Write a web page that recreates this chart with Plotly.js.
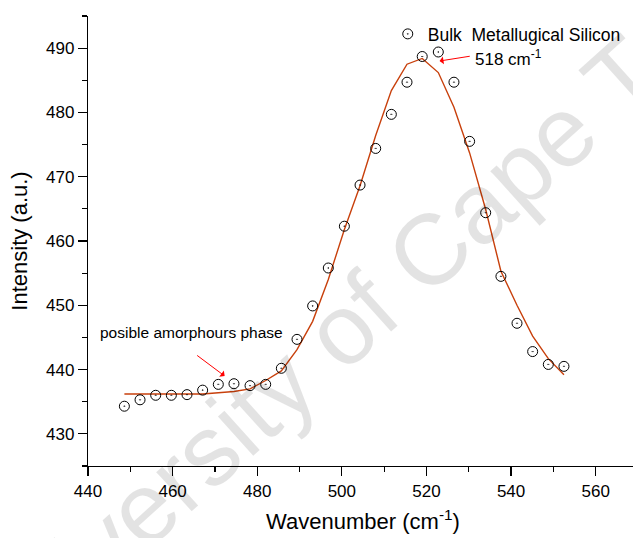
<!DOCTYPE html>
<html>
<head>
<meta charset="utf-8">
<script src="https://cdn.plot.ly/plotly-3.0.1.min.js"></script>
<style>
html,body{margin:0;padding:0;overflow:hidden;background:#fff;}
#chart{width:640px;height:538px;}
</style>
</head>
<body>
<div id="chart"></div>
<script>
// Raman spectrum data
const wavenumber = [448.6, 452.3, 456.0, 459.7, 463.4, 467.1, 470.8, 474.5, 478.3, 482.0,
                    485.7, 489.4, 493.1, 496.8, 500.6, 504.3, 508.0, 511.7, 515.4, 519.0,
                    522.8, 526.5, 530.2, 534.0, 537.6, 541.4, 545.1, 548.8, 552.5];
const intensity  = [434.3, 435.3, 436.0, 436.0, 436.1, 436.8, 437.7, 437.8, 437.5, 437.7,
                    440.2, 444.7, 449.9, 455.8, 462.3, 468.7, 474.4, 479.7, 484.7, 488.7,
                    489.4, 484.7, 475.5, 464.4, 454.5, 447.2, 442.8, 440.8, 440.5];
const fitIntensity = [436.2, 436.2, 436.2, 436.2, 436.1, 436.2, 436.4, 436.6, 437.0, 438.3,
                      439.8, 443.1, 447.5, 454.0, 461.8, 468.6, 476.4, 483.4, 487.5, 488.4,
                      486.2, 480.8, 473.7, 464.9, 455.3, 450.0, 445.2, 441.7, 439.2];
const seriesName = 'Bulk\u00a0 Metallugical Silicon';
const xTitle = 'Wavenumber (cm<sup>-1</sup>)';
const yTitle = 'Intensity (a.u.)';
const peakLabel = '518 cm<sup>-1</sup>';
const phaseLabel = 'posible amorphours phase';
const watermark = 'University of Cape Town';

const FONT = 'Liberation Sans, Arial, Helvetica, sans-serif';

const traces = [
  {
    x: wavenumber, y: fitIntensity, type: 'scatter', mode: 'lines',
    line: {color: '#c8400c', width: 1.4}, showlegend: false, hoverinfo: 'skip'
  },
  {
    x: wavenumber, y: intensity, type: 'scatter', mode: 'markers', name: seriesName,
    marker: {symbol: 'circle-open-dot', size: 10, color: '#000', line: {color: '#000', width: 1}}
  }
];

const axBase = {
  showgrid: false, zeroline: false, showline: true, linecolor: '#000', linewidth: 1.2,
  tickcolor: '#000', tickwidth: 1.2, ticklen: 9,
  tickfont: {family: FONT, size: 17, color: '#000'}
};

const layout = {
  width: 640, height: 538,
  margin: {l: 88, r: 2, t: 16, b: 72},
  paper_bgcolor: '#fff', plot_bgcolor: '#fff',
  font: {family: FONT, color: '#000'},
  showlegend: true,
  legend: {x: 0.545, y: 1.0, xanchor: 'left', yanchor: 'top', bgcolor: 'rgba(0,0,0,0)',
           font: {family: FONT, size: 17.5, color: '#000'}},
  xaxis: Object.assign({}, axBase, {
    range: [440, 570], tick0: 440, dtick: 20, ticks: 'outside',
    minor: {dtick: 10, ticks: 'outside', ticklen: 5, tickcolor: '#000', tickwidth: 1.2, showgrid: false},
    title: {text: xTitle, standoff: 14, font: {family: FONT, size: 22, color: '#000'}}
  }),
  yaxis: Object.assign({}, axBase, {
    range: [425, 495], tick0: 430, dtick: 10, ticks: 'outside',
    minor: {dtick: 5, ticks: 'outside', ticklen: 5, tickcolor: '#000', tickwidth: 1.2, showgrid: false},
    title: {text: yTitle, standoff: 12, font: {family: FONT, size: 22, color: '#000'}}
  }),
  xaxis2: Object.assign({}, axBase, {
    overlaying: 'x', side: 'top', anchor: 'y', matches: 'x', range: [440, 570],
    tick0: 440, dtick: 20, ticks: 'inside', showticklabels: false,
    minor: {dtick: 10, ticks: 'inside', ticklen: 5, tickcolor: '#000', tickwidth: 1.2, showgrid: false}
  }),
  yaxis2: Object.assign({}, axBase, {
    overlaying: 'y', side: 'right', anchor: 'x', matches: 'y', range: [425, 495],
    tick0: 430, dtick: 10, ticks: 'inside', showticklabels: false,
    minor: {dtick: 5, ticks: 'inside', ticklen: 5, tickcolor: '#000', tickwidth: 1.2, showgrid: false}
  }),
  annotations: [
    {xref: 'paper', yref: 'paper', x: 0.518, y: 0.366, text: watermark, showarrow: false,
     textangle: -42, font: {family: FONT, size: 100, color: 'rgba(0,0,0,0.11)'}},
    {x: 523.1, y: 488.0, ax: 31.7, ay: -5, xref: 'x', yref: 'y', text: '', showarrow: true,
     arrowcolor: '#ff0000', arrowwidth: 1, arrowhead: 1, arrowsize: 1.3},
    {x: 531.1, y: 488.5, xref: 'x', yref: 'y', text: peakLabel, showarrow: false,
     xanchor: 'left', yanchor: 'middle', font: {family: FONT, size: 17, color: '#000'}},
    {x: 472.3, y: 439.0, ax: -29, ay: -21.7, xref: 'x', yref: 'y', text: '', showarrow: true,
     arrowcolor: '#ff0000', arrowwidth: 1, arrowhead: 1, arrowsize: 1.3},
    {x: 442.3, y: 445.7, xref: 'x', yref: 'y', text: phaseLabel, showarrow: false,
     xanchor: 'left', yanchor: 'middle', font: {family: FONT, size: 15.5, color: '#000'}}
  ]
};

Plotly.newPlot('chart', traces, layout, {displayModeBar: false, staticPlot: true});
</script>
</body>
</html>
